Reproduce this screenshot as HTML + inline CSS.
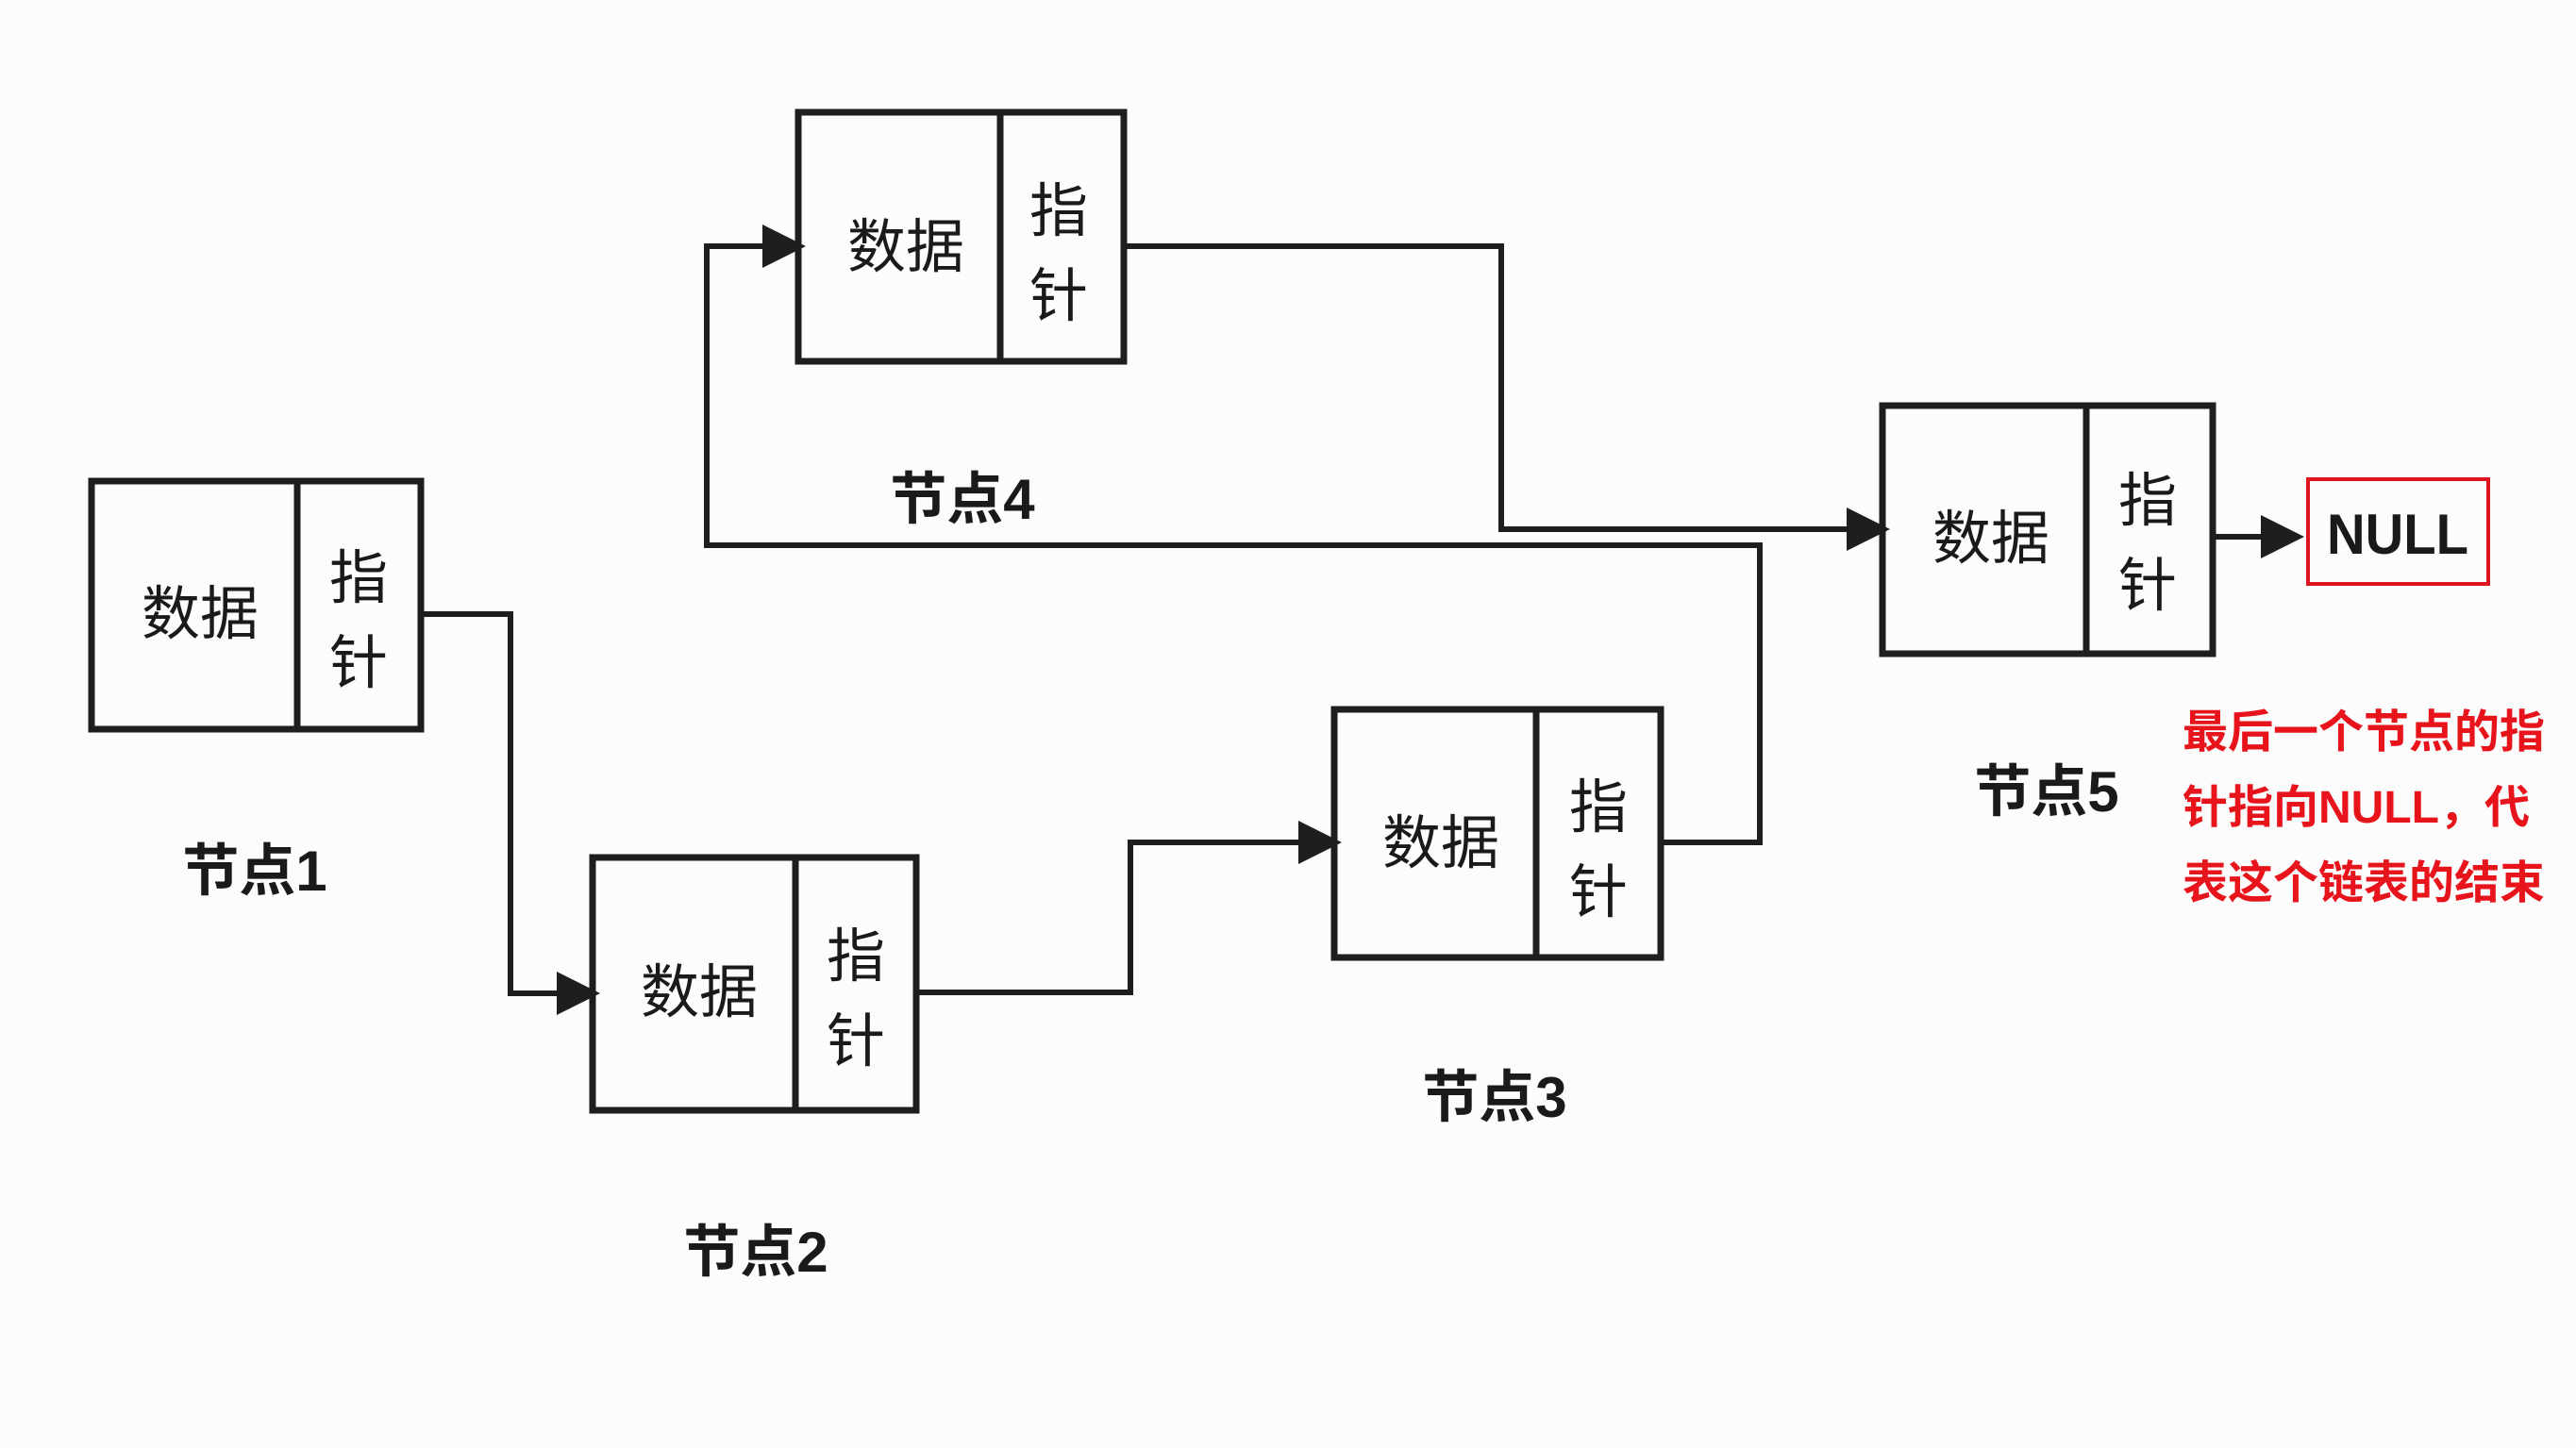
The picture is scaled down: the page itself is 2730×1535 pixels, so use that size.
<!DOCTYPE html>
<html><head><meta charset="utf-8"><style>
html,body{margin:0;padding:0;background:#fcfcfc;}
svg{display:block;}
text{font-family:"Liberation Sans","Noto Sans CJK SC",sans-serif;fill:#1a1a1a;}
</style></head><body>
<svg width="2730" height="1535" viewBox="0 0 2730 1535" xmlns="http://www.w3.org/2000/svg">
<g fill="none" stroke="#1e1e1e" stroke-width="7">
<rect x="97" y="510" width="349" height="263"/><line x1="315" y1="510" x2="315" y2="773"/>
<rect x="628" y="909" width="343" height="268"/><line x1="843" y1="909" x2="843" y2="1177"/>
<rect x="1414" y="752" width="346" height="263"/><line x1="1628" y1="752" x2="1628" y2="1015"/>
<rect x="846" y="119" width="345" height="264"/><line x1="1060" y1="119" x2="1060" y2="383"/>
<rect x="1995" y="430" width="350" height="263"/><line x1="2211" y1="430" x2="2211" y2="693"/>
</g>
<g fill="none" stroke="#1e1e1e" stroke-width="6">
<polyline points="446,651 541,651 541,1053 600,1053"/>
<polyline points="971,1052 1198,1052 1198,893 1386,893"/>
<polyline points="1760,893 1865,893 1865,578 749,578 749,261 818,261"/>
<polyline points="1191,261 1591,261 1591,561 1967,561"/>
<polyline points="2345,569 2410,569"/>
</g>
<g fill="#1e1e1e">
<polygon points="590,1030 636,1053 590,1076"/>
<polygon points="1376,870 1422,893 1376,916"/>
<polygon points="808,238 854,261 808,284"/>
<polygon points="1957,538 2003,561 1957,584"/>
<polygon points="2396,546 2442,569 2396,592"/>
</g>
<rect x="2446" y="508" width="191" height="111" fill="none" stroke="#e0141e" stroke-width="4"/>
<text x="2541" y="587" font-size="60" text-anchor="middle" font-weight="bold" textLength="150" lengthAdjust="spacingAndGlyphs">NULL</text>
<g font-size="62" text-anchor="middle">
<text x="212" y="672">数据</text><text x="380" y="634">指</text><text x="380" y="724">针</text>
<text x="741" y="1073">数据</text><text x="907" y="1035">指</text><text x="907" y="1125">针</text>
<text x="1527" y="915">数据</text><text x="1694" y="877">指</text><text x="1694" y="967">针</text>
<text x="960" y="283">数据</text><text x="1122" y="245">指</text><text x="1122" y="335">针</text>
<text x="2110" y="592">数据</text><text x="2276" y="552">指</text><text x="2276" y="642">针</text>
</g>
<g font-size="60" text-anchor="middle" font-weight="bold">
<text x="270" y="944">节点1</text>
<text x="801" y="1348">节点2</text>
<text x="1584" y="1184">节点3</text>
<text x="1020" y="550">节点4</text>
<text x="2169" y="860">节点5</text>
</g>
<g font-size="48" font-weight="bold">
<text x="2313" y="792" style="fill:#e8141c">最后一个节点的指</text>
<text x="2313" y="872" style="fill:#e8141c">针指向NULL，代</text>
<text x="2313" y="952" style="fill:#e8141c">表这个链表的结束</text>
</g>
</svg>
</body></html>
